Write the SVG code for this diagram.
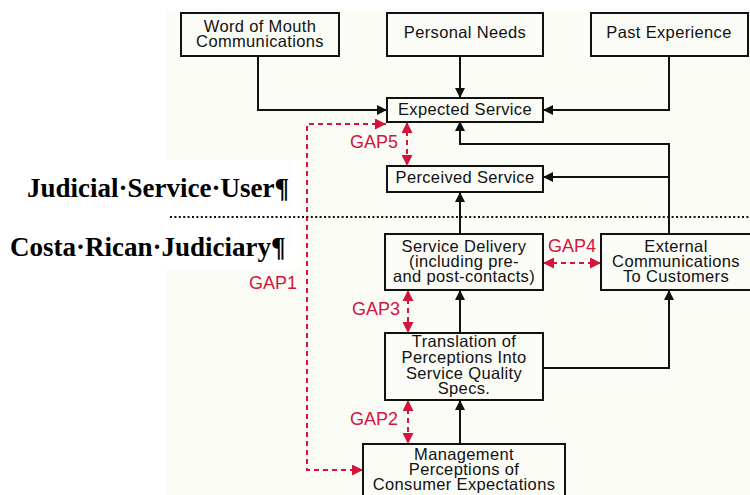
<svg xmlns="http://www.w3.org/2000/svg" width="750" height="495" viewBox="0 0 750 495">
<style>
.box{fill:none;stroke:#111;stroke-width:2}
.t{font-family:"Liberation Sans",Arial,sans-serif;font-size:16.5px;letter-spacing:0.35px;fill:#111;text-anchor:middle}
.g{font-family:"Liberation Sans",Arial,sans-serif;font-size:18px;fill:#d4143c}
.lbl{font-family:"Liberation Serif","Times New Roman",serif;font-size:27px;font-weight:bold;fill:#000}
.c{fill:none;stroke:#111;stroke-width:2}
.r{fill:none;stroke:#d4143c;stroke-width:2;stroke-dasharray:5 4}
</style>
<defs>
<marker id="ab" viewBox="0 0 10 10" refX="10" refY="5" markerWidth="10" markerHeight="10" markerUnits="userSpaceOnUse" orient="auto"><path d="M0,0 L10,5 L0,10 z" fill="#111"/></marker>
<marker id="ar" viewBox="0 0 11 11" refX="11" refY="5.5" markerWidth="11" markerHeight="11" markerUnits="userSpaceOnUse" orient="auto-start-reverse"><path d="M0,0 L11,5.5 L0,11 z" fill="#d4143c"/></marker>
</defs>
<rect x="0" y="0" width="750" height="495" fill="#ffffff"/>
<rect x="165" y="9" width="585" height="486" fill="#fcfcf7"/>
<rect x="0" y="160" width="300" height="110" fill="#ffffff"/>

<g id="connectors">
<path class="c" d="M258 56 V110 H387" marker-end="url(#ab)"/>
<path class="c" d="M460 56 V98" marker-end="url(#ab)"/>
<path class="c" d="M669 56 V110 H543" marker-end="url(#ab)"/>
<path class="c" d="M669 234 V144 H460 V121" marker-end="url(#ab)"/>
<path class="c" d="M669 177 H543" marker-end="url(#ab)"/>
<path class="c" d="M460 234 V192" marker-end="url(#ab)"/>
<path class="c" d="M460 333 V290" marker-end="url(#ab)"/>
<path class="c" d="M543 368 H669 V290" marker-end="url(#ab)"/>
<path class="c" d="M460 444 V400" marker-end="url(#ab)"/>
<path class="r" d="M407 122 V166" marker-start="url(#ar)" marker-end="url(#ar)"/>
<path class="r" d="M543 263 H601" marker-start="url(#ar)" marker-end="url(#ar)"/>
<path class="r" d="M408 290 V333" marker-start="url(#ar)" marker-end="url(#ar)"/>
<path class="r" d="M408 400 V444" marker-start="url(#ar)" marker-end="url(#ar)"/>
<path class="r" d="M386 124 H307 V470 H363" marker-start="url(#ar)" marker-end="url(#ar)"/>
<line x1="170" y1="217" x2="750" y2="217" stroke="#111" stroke-width="2.2" stroke-dasharray="2 2.4"/>
</g>

<g id="gap-labels">
<text class="g" x="398" y="148" text-anchor="end">GAP5</text>
<text class="g" x="548" y="252">GAP4</text>
<text class="g" x="400" y="315" text-anchor="end">GAP3</text>
<text class="g" x="398" y="425" text-anchor="end">GAP2</text>
<text class="g" x="297" y="289" text-anchor="end">GAP1</text>
</g>

<g id="side-labels">
<text class="lbl" x="27" y="197">Judicial·Service·User¶</text>
<text class="lbl" x="10" y="256">Costa·Rican·Judiciary¶</text>
</g>

<g id="word-of-mouth">
<rect class="box" x="181" y="13" width="158" height="43"/>
<text class="t" x="260" y="32">Word of Mouth</text>
<text class="t" x="260" y="47">Communications</text>
</g>
<g id="personal-needs">
<rect class="box" x="387" y="13" width="156" height="43"/>
<text class="t" x="465" y="38">Personal Needs</text>
</g>
<g id="past-experience">
<rect class="box" x="591" y="13" width="157" height="43"/>
<text class="t" x="669" y="38">Past Experience</text>
</g>
<g id="expected-service">
<rect class="box" x="387" y="98" width="156" height="24"/>
<text class="t" x="465" y="115">Expected Service</text>
</g>
<g id="perceived-service">
<rect class="box" x="387" y="166" width="156" height="26"/>
<text class="t" x="465" y="183">Perceived Service</text>
</g>
<g id="service-delivery">
<rect class="box" x="385" y="234" width="158" height="56"/>
<text class="t" x="464" y="252">Service Delivery</text>
<text class="t" x="464" y="267">(including pre-</text>
<text class="t" x="464" y="282">and post-contacts)</text>
</g>
<g id="external-communications">
<rect class="box" x="601" y="234" width="151" height="56"/>
<text class="t" x="676" y="252">External</text>
<text class="t" x="676" y="267">Communications</text>
<text class="t" x="676" y="282">To Customers</text>
</g>
<g id="translation">
<rect class="box" x="385" y="333" width="158" height="67"/>
<text class="t" x="464" y="347">Translation of</text>
<text class="t" x="464" y="363">Perceptions Into</text>
<text class="t" x="464" y="379">Service Quality</text>
<text class="t" x="464" y="394">Specs.</text>
</g>
<g id="management">
<rect class="box" x="363" y="444" width="202" height="60"/>
<text class="t" x="464" y="460">Management</text>
<text class="t" x="464" y="475">Perceptions of</text>
<text class="t" x="464" y="490">Consumer Expectations</text>
</g>
</svg>
